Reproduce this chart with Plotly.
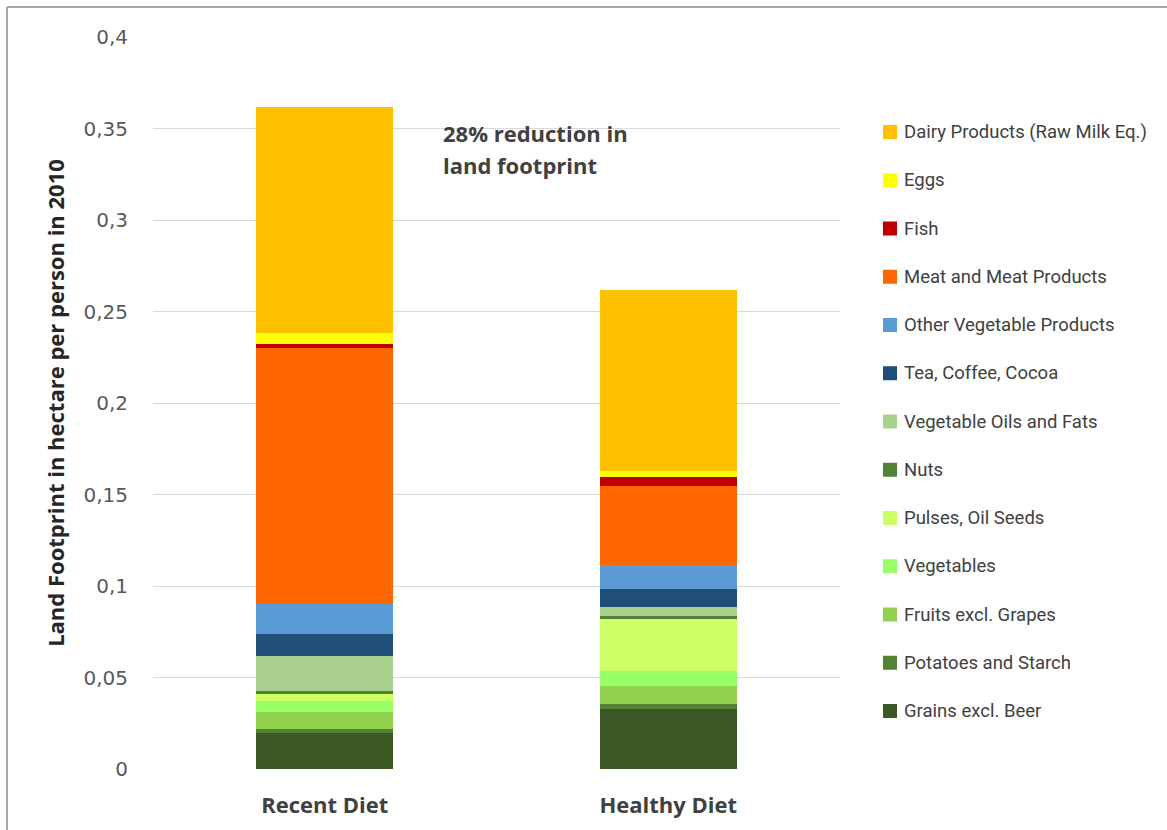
import plotly.graph_objects as go

diets = ["Recent Diet", "Healthy Diet"]

# food groups, bottom of the stack first
groups = [
    "Grains excl. Beer",
    "Potatoes and Starch",
    "Fruits excl. Grapes",
    "Vegetables",
    "Pulses, Oil Seeds",
    "Nuts",
    "Vegetable Oils and Fats",
    "Tea, Coffee, Cocoa",
    "Other Vegetable Products",
    "Meat and Meat Products",
    "Fish",
    "Eggs",
    "Dairy Products (Raw Milk Eq.)",
]

# land footprint, hectare per person (2010)
recent_diet = [0.0199, 0.0021, 0.0093, 0.0060, 0.0037, 0.0014, 0.0195,
               0.0119, 0.0169, 0.1395, 0.0020, 0.0059, 0.1238]
healthy_diet = [0.0330, 0.0025, 0.0100, 0.0082, 0.0284, 0.0015, 0.0047,
                0.0099, 0.0133, 0.0433, 0.0050, 0.0029, 0.0990]

colors = ["#3A5724", "#548235", "#92D050", "#99FF66", "#CCFF66", "#548235",
          "#A9D18E", "#1F4E79", "#5B9BD5", "#FF6600", "#C00000", "#FFFF00",
          "#FFC000"]

y_ticks = [0, 0.05, 0.1, 0.15, 0.2, 0.25, 0.3, 0.35, 0.4]

note_lines = ["28% reduction in", "land footprint"]

W, H = 1167, 830
ML, MR, MT, MB = 153, 327, 37, 61
PW, PH = W - ML - MR, H - MT - MB

fig = go.Figure()
for name, r, h, c in zip(groups, recent_diet, healthy_diet, colors):
    fig.add_trace(go.Bar(
        x=diets, y=[r, h], name=name, width=0.4,
        marker=dict(color=c, line=dict(width=0)),
        showlegend=False,
    ))


def px_x(px):
    return (px - ML) / PW


def px_y(py):
    return (H - MB - py) / PH


shapes = []
annotations = []

# legend: top entry is the last stacked group
legend_font = dict(family="Roboto, sans-serif", size=18.5, color="#404040")
for i, (name, c) in enumerate(zip(reversed(groups), reversed(colors))):
    cy = 132 + i * 48.25
    shapes.append(dict(type="rect", xref="paper", yref="paper",
                       x0=px_x(883), x1=px_x(897),
                       y0=px_y(cy + 7), y1=px_y(cy - 7),
                       fillcolor=c, line=dict(width=0)))
    annotations.append(dict(xref="paper", yref="paper", x=px_x(902), y=px_y(cy),
                            xanchor="left", yanchor="middle", showarrow=False,
                            text=name, font=legend_font))

for j, line in enumerate(note_lines):
    annotations.append(dict(
        xref="paper", yref="paper", x=px_x(441), y=px_y(133 + 32 * j),
        xanchor="left", yanchor="middle", showarrow=False, text=line,
        font=dict(family="Open Sans, sans-serif", size=22, color="#404040",
                  weight="bold"),
    ))

# frame lines along the top and left edges
shapes.append(dict(type="line", xref="paper", yref="paper",
                   x0=px_x(7), x1=px_x(W), y0=px_y(7), y1=px_y(7),
                   line=dict(color="#A6A6A6", width=2)))
shapes.append(dict(type="line", xref="paper", yref="paper",
                   x0=px_x(7), x1=px_x(7), y0=px_y(7), y1=px_y(H),
                   line=dict(color="#A6A6A6", width=2)))

fig.update_layout(
    width=W, height=H,
    margin=dict(l=ML, r=MR, t=MT, b=MB, pad=0),
    barmode="stack",
    plot_bgcolor="white", paper_bgcolor="white",
    separators=",.",
    shapes=shapes,
    annotations=annotations,
    xaxis=dict(
        range=[-0.5, 1.5], showgrid=False, zeroline=False, showline=False,
        ticks="", ticklabelstandoff=21,
        tickfont=dict(family="Open Sans, sans-serif", size=22, color="#404040",
                      weight="bold"),
    ),
    yaxis=dict(
        range=[0, 0.4], tickvals=y_ticks, showgrid=True, gridcolor="#D9D9D9",
        gridwidth=1, zeroline=False, showline=False, ticks="",
        ticklabelstandoff=24,
        tickfont=dict(family="DejaVu Sans, sans-serif", size=20, color="#595959"),
        title=dict(text="Land Footprint in hectare per person in 2010",
                   standoff=12,
                   font=dict(family="Open Sans, sans-serif",
                             size=22, color="#262626", weight="bold")),
    ),
)

fig.write_html("out.html")
